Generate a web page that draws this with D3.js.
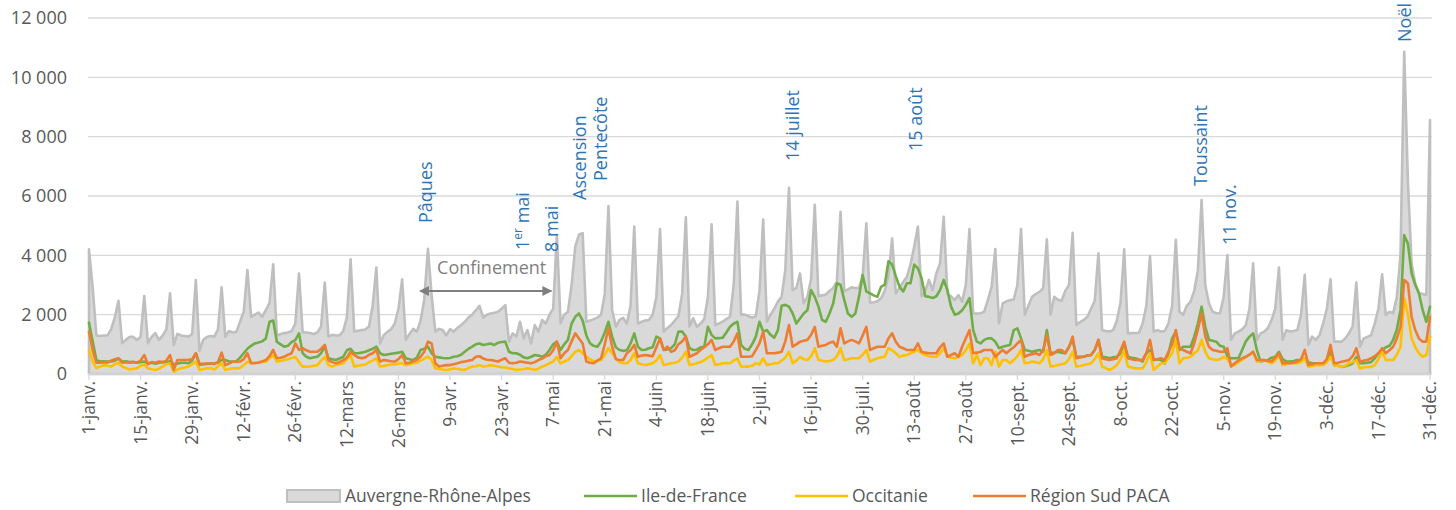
<!DOCTYPE html>
<html><head><meta charset="utf-8">
<script src="https://cdn.jsdelivr.net/npm/d3@7"></script>
<style>body{margin:0;background:#fff}text{font-family:"Open Sans",sans-serif}</style>
</head><body><svg id="c" width="1456" height="510"></svg>
<script>
// ---- DATA (daily values, 1 Jan 2021 .. 31 Dec 2021; rows = Fri..Thu) ----
const tickLabels = ["1-janv.","15-janv.","29-janv.","12-févr.","26-févr.","12-mars","26-mars","9-avr.","23-avr.","7-mai","21-mai","4-juin","18-juin","2-juil.","16-juil.","30-juil.","13-août","27-août","10-sept.","24-sept.","8-oct.","22-oct.","5-nov.","19-nov.","3-déc.","17-déc.","31-déc."];
const yTicks = [0,2000,4000,6000,8000,10000,12000];
const seriesNames = ["Auvergne-Rhône-Alpes","Ile-de-France","Occitanie","Région Sud PACA"];

const auvergne = [
4200,2900,1300,1280,1300,1300,1500, 1900,2470,1040,1150,1250,1250,1150,
1250,2630,1040,1250,1380,1150,1300, 1500,2720,980,1350,1300,1280,1260,
1350,3170,780,1150,1250,1280,1260, 1500,2920,1260,1450,1400,1420,1760,
2100,3500,1930,2000,2070,1930,2150, 2400,3700,1300,1350,1380,1400,1450,
1700,3390,1400,1400,1380,1350,1400, 1600,3080,1260,1320,1300,1300,1450,
1900,3870,1430,1460,1480,1500,1600, 2300,3590,1030,1310,1420,1510,1700,
2200,3190,1150,1350,1520,1430,1800, 2500,4220,2660,1430,1520,1480,1300,
1510,1430,1550,1650,1760,1900,2000, 2150,2300,1900,2000,2040,2060,2100,
2200,2320,1090,1370,1260,1760,1200, 1480,1030,1650,1430,1820,1700,2000,
2200,4680,1710,2000,2100,3000,4300, 4700,4750,1760,1800,1850,1900,2000,
2700,5660,2160,1600,1820,1890,1700, 2300,4970,1700,1760,1800,1820,2000,
2600,4890,1430,1550,1650,1800,1950, 2700,5280,1600,1880,1590,1700,1850,
2600,5050,1650,1700,1760,1850,1930, 3000,5810,2000,2000,1950,1900,1950,
2800,5210,1760,2000,2200,2440,2600, 3500,6280,2830,2900,3390,2380,2600,
3200,5700,2620,2650,2680,2800,2900, 3110,5470,2790,2850,2920,2900,2900,
3300,5080,2400,2420,2450,2550,2800, 3300,4570,2720,2900,3100,3270,3700,
4300,4970,2620,2800,3170,2830,3390, 3730,5300,2700,2620,2490,2660,2440,
3000,4890,2040,2040,2050,2100,2500, 2940,4210,1710,2380,2450,2490,2510,
3000,4890,2000,2300,2600,2700,2770, 2890,4540,2000,2600,2500,2470,2800,
3000,4760,1650,1750,1820,1930,2200, 2470,4070,1480,1450,1430,1480,1800,
2400,4200,1370,1380,1380,1390,1700, 2300,3980,1430,1480,1430,1450,1700,
2300,4520,2100,2000,2300,2440,2800, 3500,5860,3000,2380,2100,2050,2050,
2600,4010,1150,1370,1430,1500,1650, 2200,3730,1150,1370,1430,1550,1820,
2200,3590,1150,1480,1430,1450,1480, 2000,3340,980,1260,1150,1300,1710,
2200,3190,1090,1090,1090,1200,1370, 1600,3080,920,1200,1250,1310,1700,
2200,3360,1990,2100,2050,2600,4000, 10860,6500,3730,3060,2730,2700,2660,
8560];

const ileDeFrance = [
1730,1100,470,420,430,420,420, 450,520,420,430,400,410,380,
400,420,360,380,350,380,400, 400,430,330,350,380,380,360,
450,700,300,330,340,350,360, 380,480,470,420,420,430,550,
700,850,950,1030,1060,1100,1200, 1760,1800,1080,1000,920,950,1080,
1140,1370,700,580,530,560,580, 700,920,530,500,470,520,580,
800,850,700,700,720,750,800, 850,920,700,640,660,680,700,
720,750,530,500,470,550,810, 850,920,700,580,560,540,530,
540,580,600,650,750,850,920, 1000,1030,980,1000,1030,980,1050,
1080,1090,750,700,700,650,560, 530,580,640,620,580,650,810,
1000,1090,810,1000,1150,1700,1930, 2040,1800,1300,1030,950,920,1100,
1400,1760,1260,900,810,780,800, 1030,1370,920,810,820,870,900,
1260,1200,810,830,870,1000,1430, 1430,1260,870,810,820,900,920,
1590,1320,1200,1210,1220,1400,1590, 1700,1760,980,850,810,1000,1260,
1760,1430,1480,1320,1220,1480,2300, 2330,2270,2040,1700,1870,2040,2150,
2830,2600,2270,1820,1760,2040,2380, 3060,3010,2500,2040,1930,2040,2600,
3340,2780,2720,2650,2600,2940,3010, 3800,3690,3300,2940,2780,3060,3060,
3690,3560,3230,2620,2600,2560,2620, 2830,3170,2830,2270,2000,2040,2150,
2330,2560,1480,1090,1030,1150,1200, 1200,1090,870,920,950,980,1480,
1540,1200,810,780,750,780,810, 750,1480,700,720,750,720,700,
920,1150,580,580,580,620,640, 810,1150,580,560,530,560,580,
700,1030,580,550,530,480,420, 700,810,470,500,470,360,700,
1200,1430,810,920,920,920,1260, 1700,2270,1590,1150,1120,1090,950,
920,600,530,530,530,810,1100, 1260,1370,810,420,450,470,550,
580,750,500,420,420,440,470, 460,530,400,360,360,360,370,
450,750,300,280,240,260,300, 360,580,360,360,380,400,530,
700,810,900,950,1150,1500,2160, 4680,4400,3390,3000,2720,2160,1760,
2270];

const occitanie = [
810,415,200,250,300,280,250, 330,380,250,200,150,170,190,
280,320,190,160,135,180,250, 330,360,80,150,190,220,250,
330,415,135,160,190,200,150, 250,360,135,170,190,190,200,
300,415,380,360,400,415,415, 530,640,415,440,470,500,540,
580,400,250,250,250,280,300, 450,580,300,250,300,330,360,
500,640,250,280,300,320,400, 450,530,250,270,300,320,330,
350,360,300,330,360,380,450, 520,580,470,190,170,150,135,
160,190,170,150,135,200,250, 260,300,250,270,300,280,250,
230,220,190,170,135,150,160, 190,170,135,180,250,300,360,
420,580,360,420,470,600,750, 810,700,580,500,420,450,470,
650,870,700,530,400,360,360, 470,700,360,330,300,330,360,
450,640,300,330,360,380,420, 550,750,300,330,360,400,470,
550,640,300,330,360,360,360, 450,530,250,250,250,280,360,
320,530,300,330,360,360,450, 550,750,360,450,580,500,470,
600,870,470,450,420,440,470, 600,870,470,500,530,530,530,
650,810,420,480,530,560,580, 870,800,700,580,620,640,700,
750,810,700,640,600,580,580, 700,870,580,550,530,580,640,
800,1030,360,640,300,530,530, 300,750,250,470,470,360,470,
600,810,360,380,420,400,360, 500,810,250,270,300,330,360,
500,750,250,270,300,330,360, 500,700,250,200,135,200,300,
500,810,250,220,190,190,190, 400,700,135,250,360,360,530,
700,1150,360,530,550,580,700, 800,1150,750,530,500,470,500,
580,500,300,300,400,470,580, 650,750,420,450,470,420,360,
450,640,300,330,360,360,360, 400,530,240,270,300,300,300,
400,580,300,270,240,280,360, 400,470,190,220,240,240,300,
500,750,470,470,470,650,920, 2550,2020,1200,900,700,580,640,
1260];

const pacaSud = [
1430,800,380,380,400,380,450, 500,530,380,400,380,400,380,
450,640,330,400,380,420,400, 450,640,135,470,470,470,480,
500,700,340,340,350,360,330, 400,720,300,350,415,415,420,
500,700,360,370,380,420,470, 600,810,530,550,580,650,700,
1030,810,870,800,750,750,750, 850,980,470,400,360,400,470,
550,750,640,560,530,560,650, 700,810,420,470,450,430,420,
500,640,360,380,420,480,580, 750,1090,1030,360,250,280,300,
300,330,360,400,420,450,470, 580,600,520,480,470,450,420,
480,530,380,360,380,420,400, 380,360,400,470,520,600,640,
800,1090,530,700,810,1100,1370, 1200,1030,420,380,360,450,530,
1000,1540,920,500,470,470,700, 800,980,580,620,640,620,600,
900,1200,810,920,750,800,1000, 1100,1260,580,640,700,810,900,
1000,1150,810,870,920,920,920, 1100,1370,580,580,580,600,810,
1030,1430,700,700,700,720,750, 1100,1650,920,1000,1090,1120,1150,
1320,1590,920,950,980,1050,1090, 920,1540,1030,1100,1150,1100,1030,
1300,1590,810,870,920,920,920, 1200,1370,1090,920,870,810,810,
810,1030,750,720,700,700,700, 900,1030,580,640,700,580,920,
1200,1480,700,720,750,810,810, 810,580,700,810,700,810,900,
1030,1150,580,640,670,700,640, 800,1310,640,700,810,810,700,
900,1260,530,560,580,620,640, 810,1150,530,500,470,500,530,
800,1090,530,500,470,470,480, 700,1150,470,500,530,470,750,
1000,1480,870,810,750,700,1030, 1500,2040,1260,920,810,780,750,
750,870,250,360,450,530,580, 650,750,470,470,470,440,420,
550,700,360,380,360,380,420, 500,810,300,330,360,360,360,
500,980,360,380,415,440,470, 600,870,415,450,470,530,600,
700,870,700,800,920,1200,1590, 3170,3060,1930,1480,1200,1090,1090,
1930];

const holidayLabels = ["Pâques","1er mai","8 mai","Ascension","Pentecôte","14 juillet","15 août","Toussaint","11 nov.","Noël"];
const confinementLabel = "Confinement";

// ---- LAYOUT ----
const svg = d3.select("#c");
const x = d3.scaleLinear().domain([0, auvergne.length - 1]).range([89, 1430]);
const y = d3.scaleLinear().domain([0, 12000]).range([374, 18]);
const fr = d3.formatLocale({decimal:",", thousands:"\u00a0", grouping:[3], currency:["","€"]});
const fmt = fr.format(",");
const txt = "#595959";

// gridlines + y labels
svg.append("g").selectAll("line").data(yTicks.filter(d => d > 0)).join("line")
  .attr("x1", 88).attr("x2", 1432).attr("y1", d => y(d)).attr("y2", d => y(d))
  .attr("stroke", "#D9D9D9").attr("stroke-width", 1.3);
svg.append("g").selectAll("text").data(yTicks).join("text")
  .attr("x", 67).attr("y", d => y(d)).attr("dy", "0.35em").attr("text-anchor", "end")
  .attr("font-size", 18).attr("fill", txt).text(d => fmt(d));

// gray area
const area = d3.area().x((d, i) => x(i)).y0(y(0)).y1(d => y(d));
svg.append("path").datum(auvergne).attr("d", area + "")
  .attr("d", area(auvergne) + "Z")
  .attr("fill", "#D9D9D9").attr("stroke", "#BFBFBF").attr("stroke-width", 2.6).attr("stroke-linejoin", "round");

// x axis line + ticks
svg.append("line").attr("x1", 88).attr("x2", 1432).attr("y1", y(0)).attr("y2", y(0))
  .attr("stroke", "#D9D9D9").attr("stroke-width", 1.3);
const tickIdx = tickLabels.map((d, i) => i * 14);
svg.append("g").selectAll("line").data(tickIdx).join("line")
  .attr("x1", d => x(d)).attr("x2", d => x(d)).attr("y1", y(0)).attr("y2", y(0) + 6)
  .attr("stroke", "#D9D9D9").attr("stroke-width", 1.3);
svg.append("g").selectAll("text").data(tickLabels).join("text")
  .attr("transform", (d, i) => `translate(${x(tickIdx[i])},${y(0) + 7}) rotate(-90)`)
  .attr("text-anchor", "end").attr("dy", "0.35em").attr("font-size", 17.5).attr("fill", txt).text(d => d);

// lines
const line = d3.line().x((d, i) => x(i)).y(d => y(d));
[[ileDeFrance, "#70AD47"], [occitanie, "#FFC000"], [pacaSud, "#ED7D31"]].forEach(([s, c]) => {
  svg.append("path").attr("d", line(s)).attr("fill", "none").attr("stroke", c)
    .attr("stroke-width", 2.6).attr("stroke-linejoin", "round").attr("stroke-linecap", "round");
});

// holiday annotations (centre x in day index, bottom y of text in px)
const holidayPos = [[91.3,223],[117.8,250],[125.5,252],[133.1,200],[139,181],[191.1,161],[224.5,151],[301.8,186],[309.7,245],[357.2,42]];
holidayLabels.forEach((t, i) => {
  const [di, by] = holidayPos[i];
  const g = svg.append("text")
    .attr("transform", `translate(${x(di)},${by}) rotate(-90)`)
    .attr("dy", "0.35em").attr("font-size", 18).attr("fill", "#2E75B6");
  if (t === "1er mai") {
    g.append("tspan").text("1");
    g.append("tspan").attr("font-size", 12).attr("dy", "-0.6em").text("er");
    g.append("tspan").attr("dy", "0.4em").text(" mai");
  } else g.text(t);
});

// confinement arrow
const defs = svg.append("defs");
["s", "e"].forEach(k => {
  defs.append("marker").attr("id", "a" + k).attr("viewBox", "0 0 10 10")
    .attr("refX", k === "e" ? 9 : 1).attr("refY", 5).attr("markerWidth", 6).attr("markerHeight", 5)
    .attr("markerUnits", "strokeWidth").attr("orient", "auto-start-reverse")
    .append("path").attr("d", "M0,0L10,5L0,10Z").attr("fill", "#7F7F7F");
});
svg.append("line").attr("x1", x(92)).attr("x2", x(125.5)).attr("y1", 291).attr("y2", 291)
  .attr("stroke", "#7F7F7F").attr("stroke-width", 2)
  .attr("marker-start", "url(#as)").attr("marker-end", "url(#ae)");
svg.append("text").attr("x", (x(92) + x(125.5)) / 2 + 2).attr("y", 268).attr("dy", "0.35em")
  .attr("text-anchor", "middle").attr("font-size", 18).attr("fill", "#7F7F7F").text(confinementLabel);

// legend
const legY = 496;
const lg = svg.append("g");
lg.append("rect").attr("x", 287).attr("y", legY - 6).attr("width", 53).attr("height", 12)
  .attr("fill", "#D9D9D9").attr("stroke", "#BFBFBF").attr("stroke-width", 2);
const legItems = [[345, null], [641, "#70AD47"], [852, "#FFC000"], [1030, "#ED7D31"]];
legItems.forEach(([lx, c], i) => {
  if (c) lg.append("line").attr("x1", lx - 57).attr("x2", lx - 4).attr("y1", legY).attr("y2", legY)
    .attr("stroke", c).attr("stroke-width", 2.6);
  lg.append("text").attr("x", lx).attr("y", legY).attr("dy", "0.35em").attr("font-size", 17.5)
    .attr("fill", txt).text(seriesNames[i]);
});
</script></body></html>
